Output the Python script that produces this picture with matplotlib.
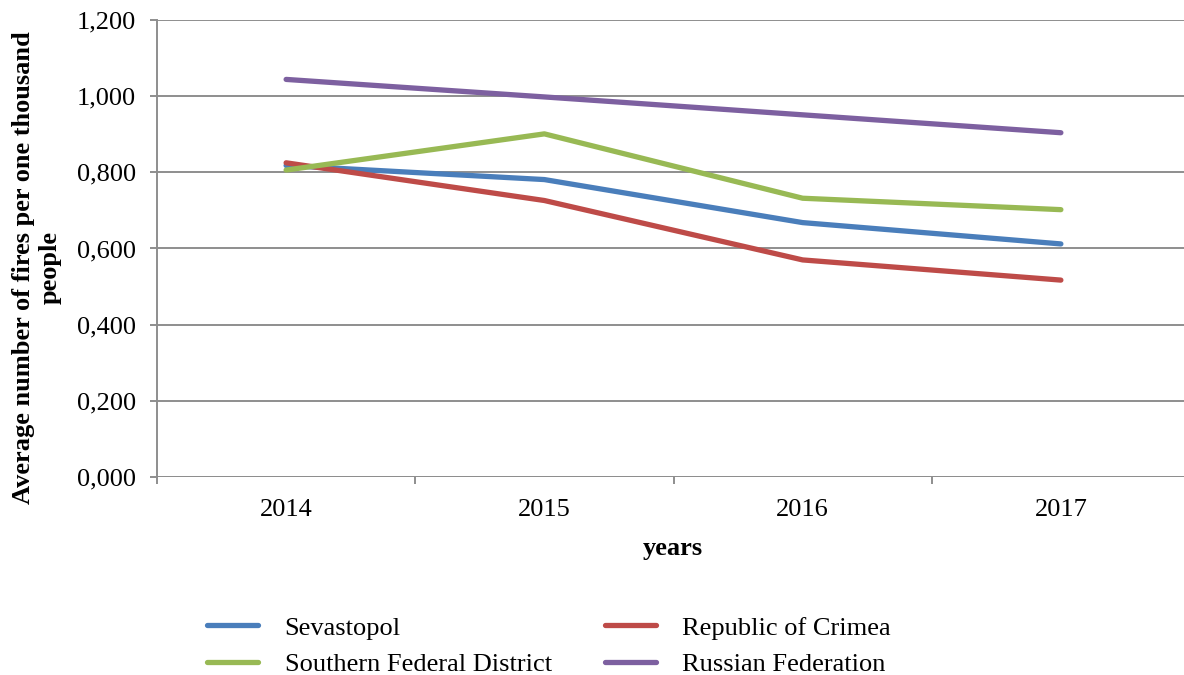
import numpy as np
import matplotlib
matplotlib.use("Agg")
import matplotlib.pyplot as plt
from matplotlib.ticker import FuncFormatter

plt.rcParams["font.family"] = ["Liberation Serif", "DejaVu Serif"]

years = ["2014", "2015", "2016", "2017"]
sevastopol = [0.818, 0.781, 0.668, 0.612]
crimea = [0.825, 0.726, 0.570, 0.517]
southern_fd = [0.806, 0.901, 0.732, 0.702]
russia = [1.044, 0.998, 0.951, 0.904]

colors = {"sev": "#4a7ebb", "cri": "#be4b48", "sfd": "#98b954", "rf": "#7d60a0"}

fig = plt.figure(figsize=(11.84, 6.75), dpi=100)
ax = fig.add_axes([157/1184, 198/675, 1033/1184, 457/675])

x = np.arange(len(years))
lw = 3.8
l_sev, = ax.plot(x, sevastopol, color=colors["sev"], lw=lw, solid_capstyle="round", label="Sevastopol")
l_cri, = ax.plot(x, crimea, color=colors["cri"], lw=lw, solid_capstyle="round", label="Republic of Crimea")
l_sfd, = ax.plot(x, southern_fd, color=colors["sfd"], lw=lw, solid_capstyle="round", label="Southern Federal District")
l_rf, = ax.plot(x, russia, color=colors["rf"], lw=lw, solid_capstyle="round", label="Russian Federation")

ax.set_xlim(-0.5, 3.5)
ax.set_ylim(0, 1.2)
ax.set_yticks(np.arange(0, 1.21, 0.2))
ax.yaxis.set_major_formatter(FuncFormatter(lambda v, p: f"{v:.3f}".replace(".", ",")))
ax.set_xticks(x)
ax.set_xticklabels(years)
ax.set_xticks(np.arange(-0.5, 3.6, 1), minor=True)

grid_c = "#8e8e8e"
ax.grid(axis="y", color=grid_c, lw=1.4)
ax.set_axisbelow(True)
for s in ["top", "right", "bottom"]:
    ax.spines[s].set_visible(False)
ax.spines["left"].set_color(grid_c)
ax.spines["left"].set_linewidth(1.4)
ax.axhline(0, color=grid_c, lw=1.4, zorder=0.5)

ax.tick_params(axis="y", which="major", length=5, color=grid_c, width=1.4, labelsize=19, pad=10)
ax.tick_params(axis="x", which="major", length=0, labelsize=19, pad=16)
ax.tick_params(axis="x", which="minor", length=5, color=grid_c, width=1.4)

fig.text(673/1184, 1 - 548/675, "years", ha="center", va="center", fontsize=19, fontweight="bold")
fig.text(37/1184, 1 - 268/675, "Average number of fires per one thousand\npeople",
         rotation=90, ha="center", va="center", multialignment="center",
         fontsize=19, fontweight="bold", linespacing=1.2)

fig.legend(handles=[l_sev, l_sfd, l_cri, l_rf], loc="center left",
           bbox_to_anchor=(183/1184, 1 - 646/675), ncol=2, frameon=False,
           fontsize=19, handlelength=1.95, handletextpad=1.0, columnspacing=2.0,
           labelspacing=0.48)

fig.savefig("out.png", dpi=100)
